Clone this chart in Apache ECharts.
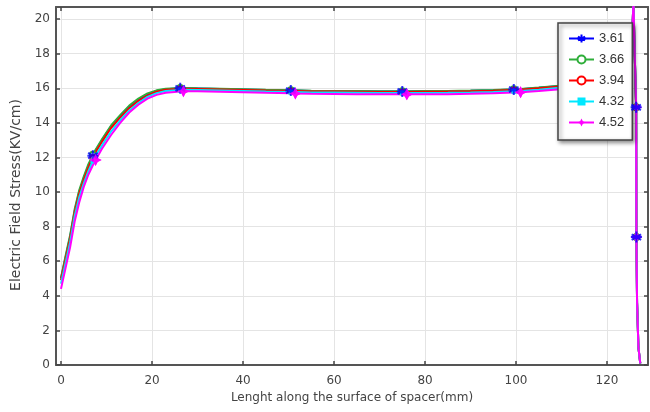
<!DOCTYPE html>
<html>
<head>
<meta charset="utf-8">
<script src="https://cdn.jsdelivr.net/npm/echarts@6/dist/echarts.min.js"></script>
<style>
html,body{margin:0;padding:0;background:#fff;}
#c{width:650px;height:412px;}
</style>
</head>
<body>
<div id="c"></div>
<script>
// ---- data ----
const seriesNames = ['3.61', '3.66', '3.94', '4.32', '4.52'];
const xTicks = [0, 20, 40, 60, 80, 100, 120];
const yTicks = [0, 2, 4, 6, 8, 10, 12, 14, 16, 18, 20];

const xs = [0, 1, 2, 3, 4, 5, 6, 7, 7.6, 9, 11, 13, 15, 17, 19, 21, 23, 26.2, 26.9, 30,
  35, 40, 45, 50.5, 51.5, 55, 60, 65, 70, 75, 76, 80, 85, 90, 95, 99.5, 101, 105, 109, 113,
  117, 120, 122, 124, 125, 125.5, 125.8, 126.1, 126.4, 126.45, 126.6, 126.9, 127.3];

const y361 = [5.0, 6.2, 7.4, 8.9, 10.0, 10.8, 11.5, 12.1, 12.4, 13.0, 13.8, 14.4, 14.95, 15.35, 15.65, 15.85, 15.95, 16.0, 16.0, 15.99,
  15.96, 15.93, 15.9, 15.87, 15.87, 15.85, 15.84, 15.83, 15.82, 15.82, 15.82, 15.83, 15.84, 15.86, 15.89, 15.93, 15.95, 16.03, 16.12, 16.2,
  16.3, 16.38, 16.5, 16.9, 17.6, 18.9, 21.0, 17.8, 14.9, 7.4, 3.6, 1.0, 0.1];
const y366 = [5.05, 6.3, 7.5, 9.0, 10.1, 10.9, 11.6, 12.15, 12.45, 13.05, 13.85, 14.45, 15.0, 15.4, 15.7, 15.88, 15.97, 16.02, 16.02, 16.0,
  15.97, 15.94, 15.91, 15.88, 15.88, 15.86, 15.85, 15.84, 15.83, 15.83, 15.83, 15.84, 15.85, 15.87, 15.9, 15.94, 15.96, 16.04, 16.13, 16.21,
  16.31, 16.39, 16.5, 16.9, 17.6, 18.9, 21.0, 17.8, 14.9, 7.4, 3.6, 1.0, 0.1];
const y394 = [4.9, 6.1, 7.3, 8.8, 9.9, 10.7, 11.4, 12.0, 12.3, 12.9, 13.7, 14.3, 14.85, 15.27, 15.58, 15.8, 15.91, 15.96, 15.97, 15.96,
  15.93, 15.9, 15.87, 15.84, 15.84, 15.82, 15.81, 15.8, 15.79, 15.79, 15.79, 15.8, 15.81, 15.83, 15.86, 15.9, 15.92, 16.0, 16.09, 16.17,
  16.27, 16.35, 16.47, 16.87, 17.58, 18.9, 21.0, 17.8, 14.9, 7.4, 3.6, 1.0, 0.1];
const y432 = [4.7, 5.9, 7.1, 8.6, 9.7, 10.5, 11.2, 11.8, 12.1, 12.7, 13.5, 14.15, 14.72, 15.15, 15.5, 15.72, 15.84, 15.9, 15.91, 15.9,
  15.87, 15.84, 15.81, 15.78, 15.78, 15.76, 15.75, 15.74, 15.73, 15.73, 15.73, 15.73, 15.74, 15.76, 15.79, 15.83, 15.85, 15.92, 16.01, 16.09,
  16.19, 16.27, 16.4, 16.8, 17.55, 18.85, 21.0, 17.8, 14.9, 7.4, 3.6, 1.0, 0.1];
const y452 = [4.4, 5.6, 6.8, 8.3, 9.4, 10.3, 11.0, 11.55, 11.85, 12.5, 13.3, 14.0, 14.6, 15.05, 15.4, 15.62, 15.74, 15.82, 15.83, 15.83,
  15.8, 15.77, 15.74, 15.71, 15.7, 15.68, 15.67, 15.66, 15.65, 15.65, 15.65, 15.65, 15.66, 15.68, 15.71, 15.75, 15.77, 15.84, 15.93, 16.02,
  16.12, 16.2, 16.33, 16.75, 17.5, 18.8, 21.0, 17.8, 14.9, 7.4, 3.6, 1.0, 0.1];

// x positions where each curve carries a marker
const markA = [7, 26.2, 50.5, 75, 99.5, 126.4, 126.45];
const markB = [7.6, 26.9, 51.5, 76, 101, 126.4, 126.45];

const seriesValues = [y361, y366, y394, y432, y452];
const seriesMarks = [markA, markA, markA, markA, markB];
const seriesColors = ['#0000ff', '#2fae3a', '#ff0000', '#00e8ff', '#ff00ff'];
const seriesSymbols = [
  'path://M0,-10 L0,10 M-8.66,-5 L8.66,5 M-8.66,5 L8.66,-5 M-10,0 L10,0',
  'emptyCircle',
  'emptyCircle',
  'rect',
  'path://M0,-10 L3.4,-3.4 L10,0 L3.4,3.4 L0,10 L-3.4,3.4 L-10,0 L-3.4,-3.4 Z'
];
const seriesSymbolSizes = [11, 6, 5, 5, 12];

const FONT = 'DejaVu Sans, sans-serif';

const series = seriesNames.map((name, i) => {
  const ys = seriesValues[i];
  const marks = seriesMarks[i];
  const data = xs.map((x, k) => {
    const item = { value: [x, ys[k]] };
    // blue markers are drawn by an overlay so they sit above the other curves
    if (i === 0 || marks.indexOf(x) < 0) item.symbol = 'none';
    return item;
  });
  return {
    name: name,
    type: 'line',
    data: data,
    showSymbol: true,
    showAllSymbol: true,
    symbol: seriesSymbols[i],
    symbolSize: seriesSymbolSizes[i],
    clip: true,
    z: 2,
    lineStyle: { color: seriesColors[i], width: 2 },
    itemStyle: {
      color: seriesColors[i],
      borderColor: seriesColors[i],
      borderWidth: i === 0 ? 2 : (i === 1 || i === 2 ? 1.5 : 0)
    },
    emphasis: { disabled: true },
    animation: false
  };
});

// overlay of the 3.61 markers
series.push({
  name: '3.61',
  type: 'scatter',
  z: 4,
  silent: true,
  symbol: seriesSymbols[0],
  symbolSize: seriesSymbolSizes[0],
  itemStyle: { color: seriesColors[0], borderColor: seriesColors[0], borderWidth: 2 },
  data: xs.map((x, k) => [x, y361[k]]).filter(p => markA.indexOf(p[0]) >= 0),
  emphasis: { disabled: true },
  animation: false
});
// keep the 4.52 markers on top as well
series.push({
  name: '4.52',
  type: 'scatter',
  z: 5,
  silent: true,
  symbol: seriesSymbols[4],
  symbolSize: seriesSymbolSizes[4],
  itemStyle: { color: seriesColors[4] },
  data: xs.map((x, k) => [x, y452[k]]).filter(p => markB.indexOf(p[0]) >= 0 && p[0] < 126),
  emphasis: { disabled: true },
  animation: false
});

const frame = { show: true, onZero: false, lineStyle: { color: '#555', width: 2 } };

const option = {
  animation: false,
  backgroundColor: '#fff',
  textStyle: { fontFamily: FONT },
  grid: { left: 56, right: 2, top: 7, bottom: 47, containLabel: false },
  legend: {
    orient: 'vertical',
    left: 558,
    top: 23,
    width: 76,
    padding: [9, 8, 11, 10],
    itemWidth: 25,
    itemHeight: 10,
    itemGap: 8,
    backgroundColor: '#fff',
    borderColor: '#444',
    borderWidth: 1.5,
    shadowBlur: 4,
    shadowColor: 'rgba(0,0,0,0.45)',
    shadowOffsetX: 2,
    shadowOffsetY: 2,
    textStyle: { fontSize: 13, color: '#333', fontFamily: 'Liberation Sans, Arial, sans-serif' },
    data: seriesNames
  },
  xAxis: [{
    type: 'value',
    min: -1.1,
    max: 129,
    position: 'bottom',
    axisLine: frame,
    axisTick: { show: true, inside: true, length: 4, customValues: xTicks, lineStyle: { color: '#444', width: 1.5 } },
    axisLabel: { customValues: xTicks, margin: 10, fontSize: 12, color: '#444', fontFamily: FONT },
    splitLine: { show: true, lineStyle: { color: '#e4e4e4', width: 1 } },
    name: 'Lenght along the surface of spacer(mm)',
    nameLocation: 'middle',
    nameGap: 26,
    nameTextStyle: { fontSize: 12, color: '#444', fontFamily: FONT }
  }, {
    type: 'value',
    min: -1.1,
    max: 129,
    position: 'top',
    axisLine: frame,
    axisTick: { show: true, inside: true, length: 4, customValues: xTicks, lineStyle: { color: '#444', width: 1.5 } },
    axisLabel: { show: false },
    splitLine: { show: false }
  }],
  yAxis: [{
    type: 'value',
    min: 0,
    max: 20.7,
    position: 'left',
    axisLine: frame,
    axisTick: { show: true, inside: true, length: 4, customValues: yTicks, lineStyle: { color: '#444', width: 1.5 } },
    axisLabel: { customValues: yTicks, margin: 6, fontSize: 12, color: '#444', fontFamily: FONT },
    splitLine: { show: true, lineStyle: { color: '#e4e4e4', width: 1 } },
    name: 'Electric Field Stress(KV/cm)',
    nameLocation: 'middle',
    nameGap: 31,
    nameTextStyle: { fontSize: 14, color: '#444', fontFamily: FONT, padding: [0, 18, 0, 0] }
  }, {
    type: 'value',
    min: 0,
    max: 20.7,
    position: 'right',
    axisLine: frame,
    axisTick: { show: true, inside: true, length: 4, customValues: yTicks, lineStyle: { color: '#444', width: 1.5 } },
    axisLabel: { show: false },
    splitLine: { show: false }
  }],
  series: series
};

const chart = echarts.init(document.getElementById('c'), null, { renderer: 'canvas' });
chart.setOption(option);
</script>
</body>
</html>
